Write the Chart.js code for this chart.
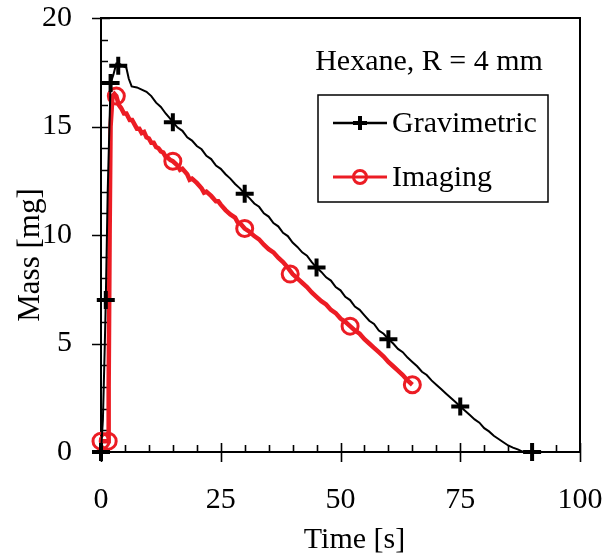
<!DOCTYPE html>
<html><head><meta charset="utf-8">
<script src="https://cdn.jsdelivr.net/npm/chart.js@4"></script>
<style>html,body{margin:0;padding:0;background:#fff}</style>
</head><body>
<canvas id="c" width="606" height="559"></canvas>
<script>
const seriesNames = ['Gravimetric', 'Imaging'];
const annotationText = 'Hexane, R = 4 mm';
const xTitle = 'Time [s]';
const yTitle = 'Mass [mg]';
const xTickValues = [0, 25, 50, 75, 100];
const yTickValues = [0, 5, 10, 15, 20];

const gravTime = [0,0.4,0.8,1,1.4,2,2.6,3.2,3.7,4.5,5.3,5.8,6.4,7.5,8.5,9.5,10.5,11.5,12.5,13.5,14.3,15,
 16,17,18,19,20,21,22,23,24,25,26,27,28,29,30,31,32,33,34,35,36,37,38,39,40,41,42,43,44,45,
 46,47,48,49,50,51,52,53,54,55,56,57,58,59,60,61,62,63,64,65,66,67,68,69,70,71,72,73,74,75,
 76,77,78,79,80,81,82,83,84,85,86,87,88,89,90];
const gravMass = [0,1.5,5,7,12,17,17.4,17.9,17.9,17.8,17.7,17.2,16.85,16.8,16.7,16.6,16.4,16.1,15.9,15.6,15.4,15.2,
 14.95,14.8,14.5,14.35,14.1,13.95,13.65,13.5,13.2,13.05,12.8,12.6,12.35,12.15,11.9,11.7,11.45,11.3,11.0,10.85,10.55,10.4,10.1,9.95,9.65,9.45,9.2,9.05,8.75,8.5,
 8.3,8.05,7.9,7.6,7.45,7.15,7.0,6.7,6.55,6.3,6.05,5.9,5.6,5.45,5.2,5.0,4.75,4.6,4.35,4.15,3.95,3.7,3.55,3.3,3.1,2.9,2.7,2.5,2.3,2.1,
 1.9,1.7,1.5,1.35,1.1,0.95,0.75,0.6,0.45,0.3,0.2,0.12,0.02,0,0];
const gravMarkerTime = [0, 1, 2, 3.6, 15, 30, 45, 60, 75, 90];
const gravMarkerMass = [0, 7, 17, 17.8, 15.2, 11.9, 8.5, 5.2, 2.1, 0];

const imgTime = [0,1.5,1.6,1.8,2.0,2.4,2.8,3.2,3.7,4.2,4.8,5.3,6,6.5,7,7.5,8,8.5,9,9.5,10,10.5,11,11.5,12,12.5,13,13.5,14,14.5,15,
 16,16.5,17,18,18.5,19,20,21,21.5,22,23,24,24.5,25,26,27,28,28.5,29,30,31,32,33,34,35,36,37,38,39,40,41,42,43,44,45,
 46,47,48,49,50,51,52,53,54,55,56,57,58,59,60,61,62,63,64,65];
const imgMass = [0.5,0.5,3,10,15,16.4,16.5,16.4,16.0,15.85,15.6,15.6,15.3,15.3,15.1,14.9,14.9,14.7,14.75,14.5,14.45,14.25,14.25,14.05,14.0,13.85,13.8,13.6,13.55,13.45,13.4,
 13.2,13.0,13.05,12.8,12.55,12.6,12.4,12.15,11.95,12.0,11.8,11.55,11.55,11.4,11.15,10.95,10.8,10.6,10.55,10.3,10.15,9.95,9.8,9.55,9.35,9.2,8.95,8.75,8.5,8.2,8.0,7.8,7.6,7.35,7.15,
 6.95,6.8,6.55,6.4,6.15,6.0,5.8,5.6,5.45,5.2,5.0,4.8,4.6,4.4,4.15,3.95,3.75,3.55,3.3,3.1];
const imgMarkerTime = [0, 1.5, 3.2, 15, 30, 39.5, 52, 65];
const imgMarkerMass = [0.5, 0.5, 16.4, 13.4, 10.3, 8.2, 5.8, 3.1];

const BLACK = '#000000';
const RED = '#ec1c24';
const FONT = '"Liberation Serif", "Times New Roman", serif';

const pts = (xs, ys) => xs.map((x, i) => ({x, y: ys[i]}));
const noOverflow = s => { s.paddingTop = 0; s.paddingBottom = 0; s.paddingLeft = 0; s.paddingRight = 0; };

const framePlugin = {
  id: 'frame',
  beforeDatasetsDraw(chart) {
    const {ctx, chartArea: a, scales: {x, y}} = chart;
    ctx.save();
    ctx.strokeStyle = '#000';
    ctx.lineWidth = 2;
    ctx.strokeRect(a.left, a.top, a.right - a.left, a.bottom - a.top);
    ctx.lineWidth = 1.6;
    ctx.beginPath();
    for (let v = x.min; v <= x.max + 1e-9; v += 5) {
      const px = Math.round(x.getPixelForValue(v)) + 0.5;
      if (xTickValues.includes(v)) { ctx.moveTo(px, a.bottom - 9); ctx.lineTo(px, a.bottom + 10); }
      else { ctx.moveTo(px, a.bottom - 7); ctx.lineTo(px, a.bottom); }
    }
    for (let v = y.min; v <= y.max + 1e-9; v += 1) {
      const py = Math.round(y.getPixelForValue(v)) + 0.5;
      if (yTickValues.includes(v)) { ctx.moveTo(a.left - 9, py); ctx.lineTo(a.left + 9, py); }
      else { ctx.moveTo(a.left, py); ctx.lineTo(a.left + 7, py); }
    }
    ctx.stroke();
    ctx.restore();
  },
  afterDraw(chart) {
    const {ctx, chartArea: a} = chart;
    ctx.save();
    ctx.fillStyle = '#000';
    ctx.font = '30px ' + FONT;
    ctx.textAlign = 'center';
    ctx.textBaseline = 'alphabetic';
    ctx.fillText(xTitle, (a.left + a.right) / 2 + 14, 548);
    ctx.save();
    ctx.font = '31px ' + FONT;
    ctx.translate(39, (a.top + a.bottom) / 2 + 20);
    ctx.rotate(-Math.PI / 2);
    ctx.fillText(yTitle, 0, 0);
    ctx.restore();
    ctx.fillText(annotationText, a.right - 151, a.top + 52);
    const bx = a.right - 262, by = a.top + 77, bw = 230, bh = 107;
    ctx.lineWidth = 1.5;
    ctx.strokeStyle = '#000';
    ctx.strokeRect(bx, by, bw, bh);
    const items = [
      {name: seriesNames[0], color: BLACK, style: 'cross', ly: by + 28},
      {name: seriesNames[1], color: RED, style: 'circle', ly: by + 82}
    ];
    ctx.textAlign = 'left';
    items.forEach(it => {
      ctx.strokeStyle = it.color;
      ctx.lineWidth = it.style === 'cross' ? 2.5 : 3;
      ctx.beginPath();
      ctx.moveTo(bx + 15, it.ly); ctx.lineTo(bx + 69, it.ly);
      ctx.stroke();
      const cx = bx + 42;
      if (it.style === 'cross') {
        ctx.lineWidth = 4;
        ctx.beginPath();
        ctx.moveTo(cx - 7, it.ly); ctx.lineTo(cx + 7, it.ly);
        ctx.moveTo(cx, it.ly - 7); ctx.lineTo(cx, it.ly + 7);
        ctx.stroke();
      } else {
        ctx.lineWidth = 3;
        ctx.beginPath();
        ctx.arc(cx, it.ly, 6.5, 0, Math.PI * 2);
        ctx.stroke();
      }
      ctx.fillStyle = '#000';
      ctx.fillText(it.name, bx + 74, it.ly + 9);
    });
    ctx.restore();
  }
};

new Chart(document.getElementById('c'), {
  type: 'scatter',
  data: {
    datasets: [
      {label: seriesNames[0] + ' markers', data: pts(gravMarkerTime, gravMarkerMass), showLine: false,
       pointStyle: 'cross', pointRadius: 9, pointBorderWidth: 4, borderColor: BLACK, backgroundColor: BLACK, clip: false},
      {label: seriesNames[0], data: pts(gravTime, gravMass), showLine: true, pointRadius: 0,
       borderColor: BLACK, borderWidth: 2, tension: 0, clip: false},
      {label: seriesNames[1] + ' markers', data: pts(imgMarkerTime, imgMarkerMass), showLine: false,
       pointStyle: 'circle', pointRadius: 8, pointBorderWidth: 3, borderColor: RED, backgroundColor: 'rgba(0,0,0,0)', clip: false},
      {label: seriesNames[1], data: pts(imgTime, imgMass), showLine: true, pointRadius: 0,
       borderColor: RED, borderWidth: 4.5, tension: 0, clip: false}
    ]
  },
  options: {
    responsive: false,
    devicePixelRatio: 1,
    animation: false,
    layout: {padding: {top: 18, right: 26, left: 0, bottom: 0}},
    plugins: {legend: {display: false}, tooltip: {enabled: false}},
    scales: {
      x: {
        type: 'linear', min: 0, max: 100,
        afterBuildTicks: s => { s.ticks = xTickValues.map(v => ({value: v})); },
        afterFit: s => { s.height = 107; noOverflow(s); },
        grid: {display: false, drawTicks: false},
        border: {display: false},
        ticks: {color: '#000', font: {family: FONT, size: 30}, padding: 30, maxRotation: 0, autoSkip: false}
      },
      y: {
        type: 'linear', min: 0, max: 20,
        afterBuildTicks: s => { s.ticks = yTickValues.map(v => ({value: v})); },
        afterFit: s => { s.width = 101; noOverflow(s); },
        grid: {display: false, drawTicks: false},
        border: {display: false},
        ticks: {color: '#000', font: {family: FONT, size: 30}, padding: 29, autoSkip: false}
      }
    }
  },
  plugins: [framePlugin]
});
</script>
</body></html>
